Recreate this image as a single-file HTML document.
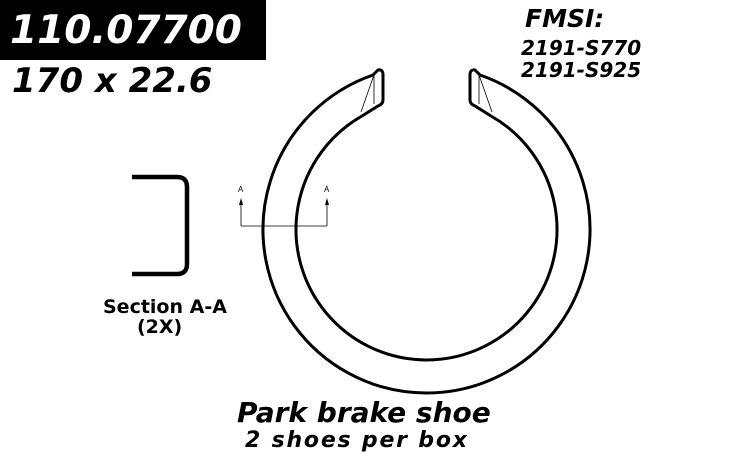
<!DOCTYPE html>
<html><head><style>
body{margin:0;background:#fff;width:740px;height:464px;overflow:hidden;position:relative;font-family:"DejaVu Sans","Liberation Sans",sans-serif}
.t{position:absolute;white-space:nowrap;font-weight:bold;font-style:italic;color:#000;line-height:1}
</style></head><body>
<div style="position:absolute;left:0;top:0;width:266px;height:60px;background:#000"></div>
<div class="t" style="left:10px;top:11px;font-size:39px;color:#fff">110.07700</div>
<div class="t" style="left:12px;top:64px;font-size:34px">170 x 22.6</div>
<div class="t" style="left:525px;top:6px;font-size:25px">FMSI:</div>
<div class="t" style="left:521px;top:38px;font-size:20px">2191-S770</div>
<div class="t" style="left:521px;top:60px;font-size:20px">2191-S925</div>
<div class="t" style="left:103px;top:298px;font-size:19px;font-style:normal">Section A-A</div>
<div class="t" style="left:137px;top:318px;font-size:19px;font-style:normal">(2X)</div>
<div class="t" style="left:237px;top:399px;font-size:28px">Park brake shoe</div>
<div class="t" style="left:245px;top:430px;font-size:22px;letter-spacing:1.8px">2 shoes per box</div>
<svg width="740" height="464" style="position:absolute;left:0;top:0" fill="none" stroke="#000">
<path d="M132 177 H177 Q187 177 187 187 V264 Q187 274 177 274 H132" stroke-width="4.5"/>
<g stroke-width="3">
<path d="M373 75 A163.5 163.5 0 1 0 480 75"/>
<path d="M362 116 A130.5 130.5 0 1 0 491 116"/>
<path d="M373 75 L378 70 Q383 69 383 75 V100 Q383 104 378 106 L362 116"/>
<path d="M480 75 L475 70 Q470 69 470 75 V100 Q470 104 475 106 L491 116"/>
</g>
<g stroke-width="0.8">
<path d="M374 72 V104 M375 72 L361 112"/>
<path d="M479 72 V104 M478 72 L492 112"/>
<path d="M241 226 H327 M241 226 V202 M327 226 V202"/>
</g>
<path d="M239 205 L241 198 L243 205Z M325 205 L327 198 L329 205Z" fill="#000" stroke="none"/>
<text x="238" y="192" font-size="8" font-family="Liberation Sans" fill="#000" stroke="none">A</text>
<text x="324" y="192" font-size="8" font-family="Liberation Sans" fill="#000" stroke="none">A</text>
</svg>
</body></html>
